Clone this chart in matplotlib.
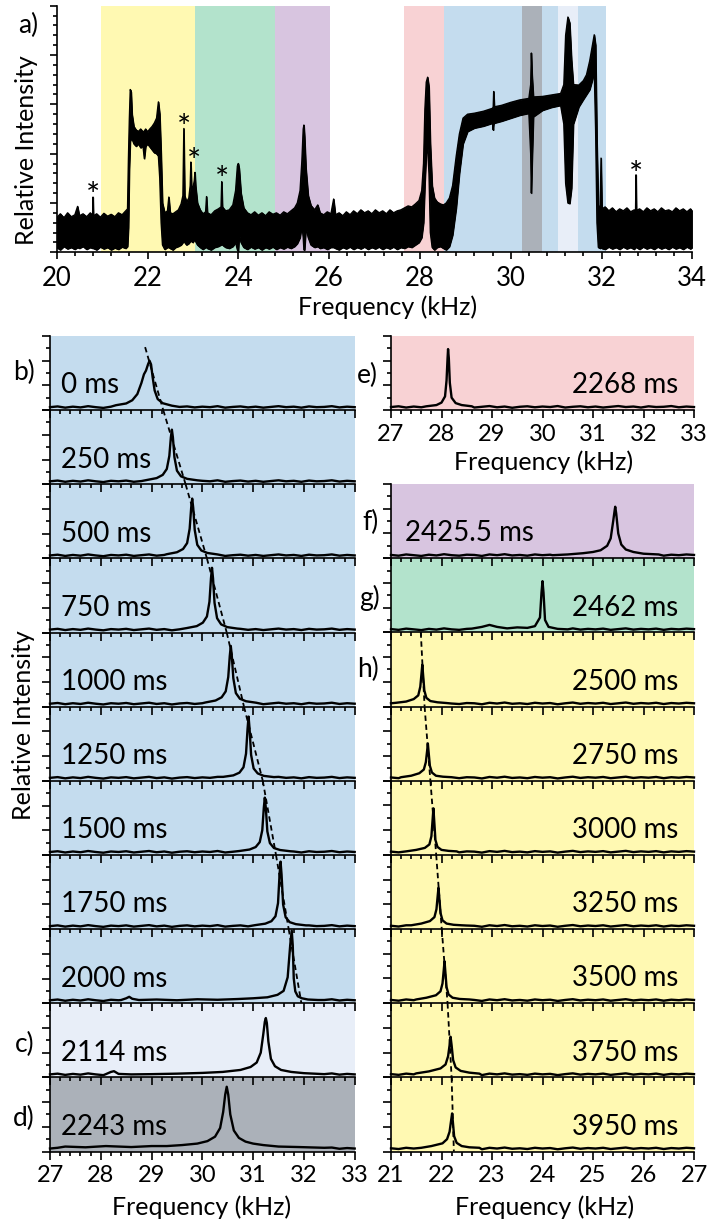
import matplotlib
matplotlib.use("Agg")
import matplotlib.pyplot as plt
from matplotlib.ticker import MultipleLocator

plt.rcParams['font.family'] = ['Lato', 'DejaVu Sans']

# ---------------- colours ----------------
YELLOW = '#FFF9B2'
GREEN = '#B3E3CC'
PURPLE = '#D8C5E0'
PINK = '#F8D2D4'
BLUE = '#C4DCEE'
GRAY = '#ABB1B9'
LIGHT = '#E8EEF8'

# ---------------- panel a data ----------------
band_lo = [20.97, 23.04, 24.80, 27.64, 28.53, 30.25, 31.04]
band_hi = [23.04, 24.80, 26.01, 28.53, 32.09, 30.69, 31.49]
band_col = [YELLOW, GREEN, PURPLE, PINK, BLUE, GRAY, LIGHT]

top_freq = [20.00, 20.08, 20.16, 20.24, 20.32, 20.40, 20.46, 20.50, 20.58, 20.66, 20.74, 20.79, 20.80, 20.81,
            20.88, 20.96, 21.04, 21.12, 21.20, 21.28, 21.36, 21.44, 21.52, 21.56, 21.58, 21.60, 21.62, 21.64,
            21.66, 21.70, 21.75, 21.80, 21.85, 21.90, 21.93, 21.96, 22.00, 22.05, 22.10, 22.15, 22.20, 22.24,
            22.27, 22.30, 22.33, 22.38, 22.44, 22.47, 22.50, 22.56, 22.62, 22.68, 22.74, 22.78, 22.80, 22.82,
            22.86, 22.91, 22.94, 22.955, 22.97, 23.00, 23.03, 23.045, 23.06, 23.10, 23.16, 23.22, 23.28, 23.30,
            23.32, 23.40, 23.48, 23.56, 23.62, 23.635, 23.65, 23.72, 23.80, 23.88, 23.94, 23.98, 24.00, 24.02,
            24.06, 24.12, 24.20, 24.28, 24.36, 24.44, 24.52, 24.60, 24.68, 24.76, 24.84, 24.92, 25.00, 25.08,
            25.16, 25.24, 25.30, 25.36, 25.40, 25.43, 25.445, 25.46, 25.49, 25.54, 25.60, 25.68, 25.75, 25.80,
            25.88, 25.96, 26.04, 26.10, 26.14, 26.22, 26.30, 26.38, 26.46, 26.54, 26.62, 26.70, 26.78, 26.86,
            26.94, 27.02, 27.10, 27.18, 27.26, 27.34, 27.42, 27.50, 27.58, 27.66, 27.74, 27.82, 27.90, 27.98,
            28.04, 28.08, 28.11, 28.14, 28.17, 28.20, 28.23, 28.27, 28.32, 28.38, 28.45, 28.52, 28.58, 28.65,
            28.72, 28.80, 28.87, 28.95, 29.05, 29.20, 29.40, 29.60, 29.615, 29.625, 29.64, 29.80, 30.00, 30.20,
            30.40, 30.44, 30.455, 30.47, 30.50, 30.70, 30.90, 31.10, 31.17, 31.21, 31.26, 31.30, 31.34, 31.38,
            31.50, 31.60, 31.67, 31.74, 31.80, 31.84, 31.87, 31.90, 31.93, 31.97, 31.99, 32.01, 32.08, 32.16,
            32.24, 32.32, 32.40, 32.48, 32.56, 32.64, 32.72, 32.75, 32.76, 32.77, 32.84, 32.92, 33.00, 33.08,
            33.16, 33.24, 33.32, 33.40, 33.48, 33.56, 33.64, 33.72, 33.80, 33.88, 33.96, 34.00]
top_low = [0.10, 0.05, 0.12, 0.07, 0.10, 0.06, 0.10, 0.08, 0.12, 0.06, 0.10, 0.08, 0.10, 0.08,
           0.05, 0.11, 0.07, 0.10, 0.05, 0.09, 0.06, 0.11, 0.08, 0.12, 0.50, 1.70, 2.25, 2.30,
           2.30, 2.20, 2.15, 2.20, 2.12, 2.16, 1.90, 2.15, 2.20, 2.14, 2.08, 2.02, 2.00, 1.95,
           1.50, 0.60, 0.15, 0.06, 0.10, 0.10, 0.08, 0.05, 0.10, 0.12, 0.15, 0.20, 0.25, 0.20,
           0.15, 0.18, 0.22, 0.30, 0.22, 0.20, 0.25, 0.30, 0.22, 0.15, 0.10, 0.06, 0.10, 0.10,
           0.08, 0.05, 0.10, 0.12, 0.15, 0.20, 0.15, 0.10, 0.08, 0.12, 0.20, 0.05, 0.02, 0.35,
           0.20, 0.10, 0.06, 0.11, 0.07, 0.10, 0.05, 0.10, 0.07, 0.11, 0.06, 0.10, 0.07, 0.11,
           0.08, 0.12, 0.18, 0.30, 0.55, 0.30, 0.05, 0.05, 0.50, 0.30, 0.15, 0.10, 0.12, 0.08,
           0.10, 0.06, 0.10, 0.10, 0.08, 0.05, 0.10, 0.07, 0.11, 0.06, 0.10, 0.07, 0.11, 0.06,
           0.10, 0.07, 0.11, 0.06, 0.10, 0.07, 0.11, 0.06, 0.10, 0.08, 0.12, 0.10, 0.15, 0.20,
           0.30, 0.60, 1.40, 2.00, 2.10, 1.60, 0.40, 0.10, 0.05, 0.10, 0.12, 0.08, 0.05, 0.12,
           0.35, 0.90, 1.60, 2.20, 2.45, 2.52, 2.56, 2.62, 2.48, 2.60, 2.62, 2.66, 2.72, 2.78,
           2.82, 2.00, 1.20, 1.80, 2.75, 2.88, 2.94, 2.98, 2.60, 1.40, 1.00, 0.99, 1.30, 2.60,
           2.95, 3.10, 3.20, 3.30, 3.50, 3.70, 2.50, 0.60, 0.10, 0.08, 0.10, 0.08, 0.06, 0.11,
           0.07, 0.10, 0.06, 0.11, 0.07, 0.10, 0.06, 0.10, 0.10, 0.10, 0.06, 0.11, 0.07, 0.10,
           0.06, 0.11, 0.07, 0.10, 0.06, 0.11, 0.07, 0.10, 0.06, 0.11, 0.07, 0.10]
top_high = [0.70, 0.78, 0.70, 0.80, 0.72, 0.76, 0.93, 0.74, 0.78, 0.72, 0.80, 0.74, 1.12, 0.74,
            0.78, 0.71, 0.79, 0.73, 0.77, 0.72, 0.80, 0.76, 0.84, 0.88, 1.90, 2.70, 3.30, 3.25,
            2.80, 2.55, 2.48, 2.45, 2.50, 2.44, 2.46, 2.50, 2.44, 2.50, 2.55, 2.62, 2.72, 3.05,
            2.80, 2.00, 1.00, 0.80, 0.84, 1.12, 0.80, 0.78, 0.82, 0.86, 0.98, 1.15, 2.51, 1.15,
            1.02, 1.10, 1.35, 1.83, 1.35, 1.30, 1.45, 1.62, 1.35, 1.00, 0.86, 0.78, 0.82, 1.13,
            0.80, 0.76, 0.84, 0.88, 0.92, 1.43, 0.92, 0.84, 0.86, 0.96, 1.25, 1.75, 1.80, 1.70,
            1.20, 0.90, 0.80, 0.76, 0.82, 0.75, 0.80, 0.74, 0.82, 0.77, 0.80, 0.75, 0.82, 0.78,
            0.84, 0.90, 1.00, 1.25, 1.85, 2.50, 2.58, 2.35, 1.70, 1.15, 0.95, 0.86, 0.96, 0.80,
            0.76, 0.82, 0.78, 1.08, 0.76, 0.80, 0.74, 0.82, 0.76, 0.84, 0.78, 0.86, 0.80, 0.84,
            0.78, 0.86, 0.80, 0.84, 0.78, 0.86, 0.80, 0.84, 0.86, 0.90, 0.94, 0.92, 0.98, 1.05,
            1.25, 1.80, 2.90, 3.45, 3.55, 3.35, 2.20, 1.35, 1.10, 1.02, 0.98, 0.96, 1.00, 1.10,
            1.35, 1.95, 2.40, 2.72, 2.80, 2.82, 2.86, 2.92, 2.95, 3.26, 2.95, 2.98, 3.04, 3.09,
            3.12, 3.40, 4.04, 3.60, 3.15, 3.16, 3.19, 3.22, 3.40, 4.40, 4.77, 4.65, 3.90, 3.40,
            3.39, 3.48, 3.60, 3.88, 4.20, 4.41, 4.20, 2.20, 0.95, 0.90, 1.91, 0.88, 0.92, 0.84,
            0.90, 0.82, 0.88, 0.84, 0.90, 0.82, 0.86, 0.85, 1.57, 0.85, 0.88, 0.82, 0.90, 0.84,
            0.88, 0.82, 0.90, 0.84, 0.86, 0.82, 0.90, 0.84, 0.88, 0.82, 0.88, 0.84]

star_f = [20.80, 22.80, 23.02, 23.635, 32.76]
star_y = [1.12, 2.50, 1.82, 1.45, 1.55]

# ---------------- stacked panels data ----------------
base_left_f = [27.0 + 0.15 * i for i in range(41)]
base_left_y = [0.12, 0.15, 0.10, 0.14, 0.11, 0.16, 0.12, 0.09, 0.14, 0.12, 0.15, 0.10, 0.13, 0.16,
               0.11, 0.14, 0.09, 0.13, 0.15, 0.11, 0.14, 0.12, 0.16, 0.10, 0.13, 0.15, 0.11, 0.14,
               0.10, 0.13, 0.16, 0.12, 0.14, 0.10, 0.15, 0.12, 0.13, 0.16, 0.11, 0.14, 0.12]
base_right_f = [21.0 + 0.15 * i for i in range(41)]
base_right_y = [0.13, 0.10, 0.15, 0.12, 0.09, 0.14, 0.11, 0.16, 0.12, 0.10, 0.14, 0.13, 0.09, 0.15,
                0.12, 0.16, 0.11, 0.13, 0.10, 0.15, 0.12, 0.14, 0.09, 0.13, 0.16, 0.11, 0.14, 0.12,
                0.15, 0.10, 0.13, 0.16, 0.11, 0.14, 0.12, 0.15, 0.10, 0.14, 0.12, 0.15, 0.13]

left_times = ['0 ms', '250 ms', '500 ms', '750 ms', '1000 ms', '1250 ms', '1500 ms',
              '1750 ms', '2000 ms', '2114 ms', '2243 ms']
left_colors = [BLUE] * 9 + [LIGHT, GRAY]
left_peak_f = [
    [28.3, 28.5, 28.62, 28.72, 28.8, 28.85, 28.89, 28.93, 28.96, 28.99, 29.02, 29.06, 29.12, 29.22, 29.4],
    [28.9, 29.1, 29.22, 29.3, 29.35, 29.38, 29.40, 29.42, 29.45, 29.5, 29.58, 29.7, 29.9],
    [29.3, 29.5, 29.62, 29.7, 29.75, 29.78, 29.80, 29.82, 29.85, 29.9, 29.98, 30.1, 30.3],
    [29.69, 29.89, 30.01, 30.09, 30.14, 30.17, 30.19, 30.21, 30.24, 30.29, 30.37, 30.49, 30.69],
    [30.06, 30.26, 30.38, 30.46, 30.51, 30.54, 30.56, 30.58, 30.61, 30.66, 30.74, 30.86, 31.06],
    [30.41, 30.61, 30.73, 30.81, 30.86, 30.89, 30.91, 30.93, 30.96, 31.01, 31.09, 31.21, 31.41],
    [30.73, 30.93, 31.05, 31.13, 31.18, 31.21, 31.23, 31.25, 31.28, 31.33, 31.41, 31.53, 31.73],
    [31.04, 31.24, 31.36, 31.44, 31.49, 31.52, 31.54, 31.56, 31.59, 31.64, 31.72, 31.84, 32.04],
    [28.4, 28.5, 28.56, 28.62, 28.75, 29.1, 29.5, 29.9, 30.3, 30.7, 31.0, 31.28, 31.48, 31.6, 31.68,
     31.73, 31.76, 31.78, 31.8, 31.83, 31.88, 31.96, 32.08, 32.28],
    [28.1, 28.2, 28.26, 28.35, 28.6, 29.0, 29.5, 30.0, 30.4, 30.75, 30.95, 31.07, 31.15, 31.2, 31.23,
     31.25, 31.27, 31.3, 31.35, 31.43, 31.55, 31.75, 32.0, 32.3],
    [27.3, 27.7, 28.1, 28.6, 29.0, 29.3, 29.6, 29.9, 30.1, 30.25, 30.35, 30.41, 30.45, 30.48, 30.51,
     30.55, 30.62, 30.72, 30.85, 31.0, 31.2, 31.5, 31.9, 32.4],
]
left_peak_y = [
    [0.2, 0.27, 0.4, 0.65, 1.1, 1.45, 1.6, 1.85, 2.0, 1.85, 1.35, 0.8, 0.45, 0.28, 0.18],
    [0.17, 0.25, 0.38, 0.62, 1.15, 1.9, 2.21, 1.9, 1.1, 0.55, 0.32, 0.22, 0.16],
    [0.17, 0.25, 0.38, 0.62, 1.2, 2.05, 2.42, 2.05, 1.15, 0.55, 0.32, 0.22, 0.16],
    [0.18, 0.26, 0.4, 0.65, 1.25, 2.2, 2.62, 2.2, 1.2, 0.58, 0.33, 0.22, 0.16],
    [0.17, 0.25, 0.38, 0.62, 1.2, 2.05, 2.46, 2.05, 1.15, 0.55, 0.32, 0.22, 0.16],
    [0.16, 0.22, 0.33, 0.55, 1.1, 2.1, 2.6, 2.1, 1.05, 0.5, 0.3, 0.2, 0.15],
    [0.16, 0.22, 0.32, 0.52, 1.0, 1.9, 2.32, 1.9, 0.95, 0.48, 0.28, 0.2, 0.15],
    [0.16, 0.22, 0.32, 0.52, 1.05, 2.2, 2.73, 2.2, 1.0, 0.48, 0.28, 0.2, 0.15],
    [0.13, 0.2, 0.26, 0.18, 0.13, 0.15, 0.12, 0.16, 0.14, 0.17, 0.2, 0.24, 0.34, 0.5, 1.05,
     2.35, 2.94, 2.35, 1.0, 0.48, 0.28, 0.2, 0.15, 0.13],
    [0.13, 0.22, 0.25, 0.14, 0.12, 0.13, 0.15, 0.18, 0.22, 0.3, 0.42, 0.6, 1.0, 1.75, 2.25,
     2.4, 2.2, 1.45, 0.75, 0.45, 0.3, 0.22, 0.17, 0.14],
    [0.2, 0.17, 0.22, 0.18, 0.22, 0.22, 0.26, 0.32, 0.42, 0.6, 0.95, 1.6, 2.3, 2.62, 2.3,
     1.5, 0.85, 0.55, 0.4, 0.32, 0.26, 0.2, 0.18, 0.15],
]
# dashed guide in b): frequency at each panel boundary (top of 0 ms ... bottom of 2000 ms)
dash_b = [28.81, 29.23, 29.67, 30.09, 30.48, 30.82, 31.19, 31.45, 31.70, 31.95]
dash_b_start = 2.55  # intensity where the guide begins in the 0 ms panel

e_time = '2268 ms'
e_peak_f = [27.7, 27.9, 28.0, 28.07, 28.1, 28.12, 28.13, 28.145, 28.165, 28.2, 28.28, 28.4, 28.6]
e_peak_y = [0.15, 0.2, 0.3, 0.55, 1.2, 2.1, 2.47, 2.1, 1.1, 0.5, 0.28, 0.2, 0.15]

right_times = ['2425.5 ms', '2462 ms', '2500 ms', '2750 ms', '3000 ms', '3250 ms', '3500 ms',
               '3750 ms', '3950 ms']
right_colors = [PURPLE, GREEN] + [YELLOW] * 7
right_peak_f = [
    [24.2, 24.5, 24.8, 25.0, 25.15, 25.28, 25.35, 25.4, 25.43, 25.44, 25.46, 25.5, 25.56, 25.65, 25.8, 26.0, 26.3],
    [22.6, 22.8, 22.95, 23.1, 23.3, 23.5, 23.7, 23.85, 23.95, 23.98, 24.0, 24.02, 24.05, 24.12, 24.3, 24.5],
    [21.1, 21.3, 21.45, 21.54, 21.58, 21.605, 21.62, 21.635, 21.66, 21.7, 21.78, 21.92, 22.1],
    [21.2, 21.4, 21.56, 21.65, 21.69, 21.715, 21.73, 21.745, 21.77, 21.81, 21.89, 22.03, 22.2],
    [21.3, 21.5, 21.67, 21.76, 21.8, 21.825, 21.84, 21.855, 21.88, 21.92, 22.0, 22.14, 22.3],
    [21.4, 21.6, 21.77, 21.86, 21.9, 21.925, 21.94, 21.955, 21.98, 22.02, 22.1, 22.24, 22.4],
    [21.5, 21.7, 21.89, 21.98, 22.02, 22.045, 22.06, 22.075, 22.1, 22.14, 22.22, 22.36, 22.55],
    [21.5, 21.75, 21.98, 22.08, 22.13, 22.16, 22.18, 22.2, 22.23, 22.28, 22.38, 22.55, 22.75],
    [21.6, 21.8, 22.02, 22.11, 22.16, 22.19, 22.21, 22.225, 22.25, 22.3, 22.4, 22.55, 22.75],
]
right_peak_y = [
    [0.12, 0.15, 0.2, 0.25, 0.32, 0.5, 0.8, 1.5, 1.95, 2.08, 1.8, 1.0, 0.55, 0.35, 0.25, 0.18, 0.15],
    [0.15, 0.22, 0.3, 0.22, 0.16, 0.2, 0.18, 0.25, 0.6, 1.6, 2.07, 1.6, 0.5, 0.22, 0.14, 0.12],
    [0.15, 0.2, 0.3, 0.45, 0.8, 1.35, 1.69, 1.3, 0.65, 0.35, 0.22, 0.17, 0.14],
    [0.14, 0.2, 0.3, 0.45, 0.75, 1.2, 1.5, 1.15, 0.6, 0.33, 0.2, 0.16, 0.14],
    [0.14, 0.2, 0.28, 0.42, 0.75, 1.45, 1.88, 1.4, 0.6, 0.32, 0.2, 0.16, 0.14],
    [0.15, 0.22, 0.32, 0.48, 0.8, 1.35, 1.67, 1.3, 0.65, 0.35, 0.22, 0.17, 0.15],
    [0.15, 0.22, 0.32, 0.48, 0.8, 1.35, 1.69, 1.3, 0.65, 0.35, 0.22, 0.17, 0.15],
    [0.16, 0.24, 0.36, 0.52, 0.85, 1.3, 1.64, 1.3, 0.7, 0.4, 0.26, 0.19, 0.15],
    [0.15, 0.22, 0.33, 0.5, 0.8, 1.25, 1.54, 1.2, 0.62, 0.35, 0.22, 0.17, 0.15],
]
# dashed guide in h): frequency at each panel boundary (top of 2500 ms ... bottom of 3950 ms)
dash_h = [21.59, 21.665, 21.78, 21.895, 22.005, 22.12, 22.2, 22.245]

# ---------------- layout helpers ----------------
W, H = 711, 1226
fig = plt.figure(figsize=(W / 100, H / 100), dpi=100)

TICK_FS = 17
TOP_TICK_FS = 18.5
LABEL_FS = 18
TIME_FS = 20
LETTER_FS = 19
LW_SPINE = 1.2


def add_ax(l, t, r, b):
    return fig.add_axes([l / W, 1 - b / H, (r - l) / W, (b - t) / H])


def ftext(px, py, s, **kw):
    return fig.text(px / W, 1 - py / H, s, **kw)


def style(ax, xmaj, xmin, ymaj, ymin, show_xlabels, fs, pad, xlen):
    for sp in ['top', 'right']:
        ax.spines[sp].set_visible(False)
    for sp in ['left', 'bottom']:
        ax.spines[sp].set_linewidth(LW_SPINE)
    ax.xaxis.set_major_locator(MultipleLocator(xmaj))
    ax.xaxis.set_minor_locator(MultipleLocator(xmin))
    ax.yaxis.set_major_locator(MultipleLocator(ymaj))
    ax.yaxis.set_minor_locator(MultipleLocator(ymin))
    ax.tick_params(which='major', direction='out', length=xlen, width=LW_SPINE, labelsize=fs, pad=pad)
    ax.tick_params(which='minor', direction='out', length=3.2, width=LW_SPINE)
    ax.tick_params(axis='y', labelleft=False)
    ax.tick_params(axis='x', labelbottom=show_xlabels)


def merged(base_f, base_y, pk_f, pk_y):
    pts = [(f, y) for f, y in zip(base_f, base_y) if f < pk_f[0] or f > pk_f[-1]]
    pts += list(zip(pk_f, pk_y))
    pts.sort()
    return [p[0] for p in pts], [p[1] for p in pts]


def small_panel(ax, color, xlim, base_f, base_y, pk_f, pk_y, show_xlabels):
    ax.set_facecolor(color)
    ax.set_xlim(*xlim)
    ax.set_ylim(0, 3)
    fx, fy = merged(base_f, base_y, pk_f, pk_y)
    ax.plot(fx, fy, color='black', lw=1.7, solid_joinstyle='round', clip_on=False)
    style(ax, 1, 0.2, 1, 0.5, show_xlabels, TICK_FS, 4, 6)


# ---------------- panel a ----------------
axa = add_ax(56.7, 5.7, 692.3, 252.3)
axa.set_xlim(20, 34)
axa.set_ylim(0, 5)
for lo, hi, c in zip(band_lo, band_hi, band_col):
    axa.axvspan(lo, hi, color=c, lw=0, zorder=0)
axa.fill_between(top_freq, top_low, top_high, color='black', lw=0.8, zorder=2)
axa.plot(top_freq, top_high, color='black', lw=1.0, zorder=2)
axa.plot(top_freq, top_low, color='black', lw=1.0, zorder=2)
for f, y in zip(star_f, star_y):
    axa.text(f, y, '*', ha='center', va='center', fontsize=24, zorder=3)
style(axa, 2, 0.4, 1, 0.2, True, TOP_TICK_FS, 5, 5.2)
ftext(388, 307, 'Frequency (kHz)', ha='center', va='center', fontsize=LABEL_FS)
ftext(27, 150, 'Relative Intensity', ha='center', va='center', rotation=90, fontsize=LABEL_FS)
ftext(28, 25, 'a)', ha='center', va='center', fontsize=LETTER_FS)

# ---------------- left stack b), c), d) ----------------
L_l, L_r, L_t, L_b = 50.0, 354.7, 336.0, 1151.5
n_left = len(left_times)
ph = (L_b - L_t) / n_left
for i in range(n_left):
    t = L_t + i * ph
    ax = add_ax(L_l, t, L_r, t + ph)
    ax.set_zorder(100 - i)
    small_panel(ax, left_colors[i], (27, 33), base_left_f, base_left_y,
                left_peak_f[i], left_peak_y[i], i == n_left - 1)
    if i < len(dash_b) - 1:
        y0 = dash_b_start if i == 0 else 3
        f0 = dash_b[i] + (dash_b[i + 1] - dash_b[i]) * (3 - y0) / 3
        ax.plot([f0, dash_b[i + 1]], [y0, 0], color='black', lw=1.3,
                linestyle=(0, (3, 2)), zorder=1)
    ax.text((61 - L_l) / (L_r - L_l), 1.0 / 3, left_times[i], transform=ax.transAxes,
            fontsize=TIME_FS, va='center', ha='left')
ftext(202, 1207, 'Frequency (kHz)', ha='center', va='center', fontsize=LABEL_FS)
ftext(24, 725, 'Relative Intensity', ha='center', va='center', rotation=90, fontsize=LABEL_FS)
ftext(24, 372, 'b)', ha='center', va='center', fontsize=LETTER_FS)
ftext(25, 1044, 'c)', ha='center', va='center', fontsize=LETTER_FS)
ftext(24, 1118, 'd)', ha='center', va='center', fontsize=LETTER_FS)

# ---------------- right stack e) ... h) ----------------
R_l, R_r = 391.0, 694.0
axe = add_ax(R_l, 336.0, R_r, 410.0)
small_panel(axe, PINK, (27, 33), base_left_f, base_left_y, e_peak_f, e_peak_y, True)
axe.text((678 - R_l) / (R_r - R_l), 1.0 / 3, e_time, transform=axe.transAxes,
         fontsize=TIME_FS, va='center', ha='right')
ftext(544, 462, 'Frequency (kHz)', ha='center', va='center', fontsize=LABEL_FS)
ftext(367, 375, 'e)', ha='center', va='center', fontsize=LETTER_FS)

R_t, R_b = 484.0, 1151.5
n_right = len(right_times)
rph = (R_b - R_t) / n_right
for i in range(n_right):
    t = R_t + i * rph
    ax = add_ax(R_l, t, R_r, t + rph)
    ax.set_zorder(100 - i)
    small_panel(ax, right_colors[i], (21, 27), base_right_f, base_right_y,
                right_peak_f[i], right_peak_y[i], i == n_right - 1)
    j = i - 2
    if 0 <= j < len(dash_h) - 1:
        ax.plot([dash_h[j], dash_h[j + 1]], [3, 0], color='black', lw=1.3,
                linestyle=(0, (3, 2)), zorder=1)
    if i == 0:
        ax.text((405 - R_l) / (R_r - R_l), 1.0 / 3, right_times[i], transform=ax.transAxes,
                fontsize=TIME_FS, va='center', ha='left')
    else:
        ax.text((678 - R_l) / (R_r - R_l), 1.0 / 3, right_times[i], transform=ax.transAxes,
                fontsize=TIME_FS, va='center', ha='right')
ftext(545, 1207, 'Frequency (kHz)', ha='center', va='center', fontsize=LABEL_FS)
ftext(370, 522, 'f)', ha='center', va='center', fontsize=LETTER_FS)
ftext(369, 598, 'g)', ha='center', va='center', fontsize=LETTER_FS)
ftext(368, 669, 'h)', ha='center', va='center', fontsize=LETTER_FS)

fig.savefig('out.png', dpi=100)
